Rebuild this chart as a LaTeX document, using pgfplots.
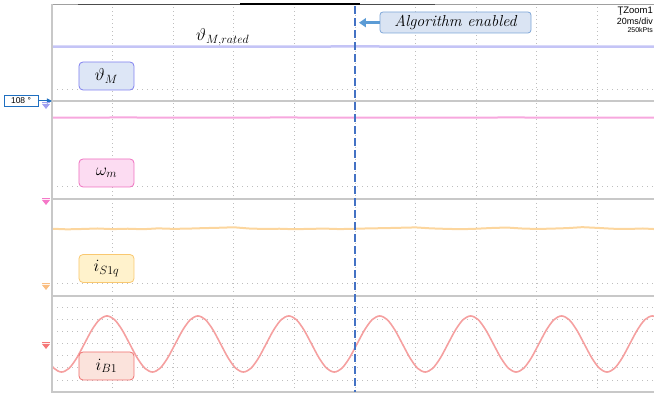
\documentclass[border=0pt]{standalone}
\usepackage{fontspec}
\setsansfont{Liberation Sans}
\usepackage{pgfplots}
\pgfplotsset{compat=1.18}
\usetikzlibrary{arrows.meta}

\definecolor{gridgray}{RGB}{190,190,190}
\definecolor{sepgray}{RGB}{200,200,200}
\definecolor{topgray}{RGB}{160,160,160}
\definecolor{thetaline}{RGB}{196,196,246}
\definecolor{omegaline}{RGB}{247,168,222}
\definecolor{isline}{RGB}{252,214,158}
\definecolor{ibline}{RGB}{245,160,160}
\definecolor{enblue}{RGB}{68,114,196}
\definecolor{arrowblue}{RGB}{91,155,213}
\definecolor{boxblue}{RGB}{221,230,246}
\definecolor{boxblueB}{RGB}{128,128,240}
\definecolor{boxpink}{RGB}{252,220,242}
\definecolor{boxpinkB}{RGB}{240,112,192}
\definecolor{boxyel}{RGB}{255,242,204}
\definecolor{boxyelB}{RGB}{249,200,112}
\definecolor{boxred}{RGB}{251,227,220}
\definecolor{boxredB}{RGB}{240,112,112}
\definecolor{algfill}{RGB}{218,228,243}
\definecolor{algdraw}{RGB}{126,166,216}
\definecolor{mkblue}{RGB}{31,111,192}
\definecolor{mklav}{RGB}{160,160,240}
\definecolor{mkpink}{RGB}{245,120,200}
\definecolor{mkorange}{RGB}{250,190,130}
\definecolor{mkred}{RGB}{245,120,120}

\begin{document}
\begin{tikzpicture}
\path[use as bounding box] (-52bp,-6bp) rectangle (602bp,392bp);
\begin{axis}[
  at={(0,0)}, anchor=south west,
  scale only axis, width=602bp, height=387bp,
  xmin=0, xmax=198.66, ymin=0, ymax=32,
  axis line style={draw=none},
  xtick={20,40,...,180},
  ytick={1,...,7,9,...,15,17,...,23,25,...,31},
  xticklabels={}, yticklabels={},
  major tick length=0pt,
  grid=major,
  x grid style={gridgray, line width=0.8bp, dash pattern=on 1bp off 3bp},
  y grid style={gridgray, line width=0.8bp, dash pattern=on 1bp off 4bp},
  clip=true,
]
% theta_M
\addplot[thetaline, line width=2.5bp] coordinates {(0,28.56) (50,28.56) (100,28.57) (150,28.56) (200,28.56)};
% omega_m
\addplot[omegaline, line width=2bp] coordinates {(0,22.69) (25,22.70) (50,22.68) (75,22.70) (100,22.69) (125,22.68) (150,22.70) (175,22.69) (200,22.69)};
% i_S1q
\addplot[isline, line width=2bp] coordinates {
(0,13.50) (5,13.45) (10,13.48) (15,13.52) (20,13.47) (25,13.50) (30,13.46) (35,13.53) (40,13.49) (45,13.51)
(50,13.55) (55,13.58) (60,13.62) (65,13.52) (70,13.48) (75,13.50) (80,13.46) (85,13.49) (90,13.51) (95,13.47)
(100,13.50) (105,13.53) (110,13.55) (115,13.58) (120,13.61) (125,13.53) (130,13.49) (135,13.46) (140,13.50) (145,13.56)
(150,13.60) (155,13.52) (160,13.48) (165,13.51) (170,13.55) (175,13.63) (180,13.57) (185,13.50) (190,13.48) (195,13.52) (200,13.46)};
% i_B1
\addplot[ibline, line width=1.6bp, smooth] coordinates {
(-1.85,2.81) (0.65,1.96) (3.15,1.65) (5.65,1.96) (8.15,2.81)
(10.65,3.97) (13.15,5.13) (15.65,5.98) (18.15,6.29) (20.65,5.98) (23.15,5.13) (25.65,3.97) (28.15,2.81) (30.65,1.96) (33.15,1.65) (35.65,1.96) (38.15,2.81)
(40.65,3.97) (43.15,5.13) (45.65,5.98) (48.15,6.29) (50.65,5.98) (53.15,5.13) (55.65,3.97) (58.15,2.81) (60.65,1.96) (63.15,1.65) (65.65,1.96) (68.15,2.81)
(70.65,3.97) (73.15,5.13) (75.65,5.98) (78.15,6.29) (80.65,5.98) (83.15,5.13) (85.65,3.97) (88.15,2.81) (90.65,1.96) (93.15,1.65) (95.65,1.96) (98.15,2.81)
(100.65,3.97) (103.15,5.13) (105.65,5.98) (108.15,6.29) (110.65,5.98) (113.15,5.13) (115.65,3.97) (118.15,2.81) (120.65,1.96) (123.15,1.65) (125.65,1.96) (128.15,2.81)
(130.65,3.97) (133.15,5.13) (135.65,5.98) (138.15,6.29) (140.65,5.98) (143.15,5.13) (145.65,3.97) (148.15,2.81) (150.65,1.96) (153.15,1.65) (155.65,1.96) (158.15,2.81)
(160.65,3.97) (163.15,5.13) (165.65,5.98) (168.15,6.29) (170.65,5.98) (173.15,5.13) (175.65,3.97) (178.15,2.81) (180.65,1.96) (183.15,1.65) (185.65,1.96) (188.15,2.81)
(190.65,3.97) (193.15,5.13) (195.65,5.98) (198.15,6.29) (200.65,5.98) (203.15,5.13)};
\end{axis}

\begin{scope}[shift={(-52bp,392bp)}, x=1bp, y=-1bp]
% frame
\draw[topgray, line width=1bp] (52,5)--(654,5);
\draw[black!70, line width=1bp] (78,4.5)--(435,4.5);
\draw[black, line width=2.5bp] (240,4)--(360,4);
\draw[sepgray, line width=2bp] (52,4.5)--(52,393);
\foreach \yy in {101,199,296,392} \draw[sepgray, line width=2bp] (52,\yy)--(654,\yy);
% enabled line
\draw[enblue, line width=1.8bp, dash pattern=on 8bp off 4bp] (355,6)--(355,392);
% labels
\tikzset{lab/.style={rounded corners=4bp, minimum width=55bp, minimum height=28bp, inner sep=0pt, line width=0.8bp, font=\fontsize{17}{19}\selectfont}}
\node[lab, fill=boxblue, draw=boxblueB] at (106.5,76) {$\vartheta_M$};
\node[lab, fill=boxpink, draw=boxpinkB] at (106.5,173) {$\omega_m$};
\node[lab, fill=boxyel, draw=boxyelB] at (106.5,268.5) {$i_{S1q}$};
\node[lab, fill=boxred, draw=boxredB] at (106.5,366) {$i_{B1}$};
\node[anchor=west, inner sep=0pt, font=\fontsize{17}{19}\selectfont] at (196,37) {$\vartheta_{M,rated}$};
\node[rounded corners=3bp, fill=algfill, draw=algdraw, line width=0.8bp, minimum width=151bp, minimum height=21bp, inner sep=0pt, font=\fontsize{16}{18}\selectfont\itshape] at (455.5,22.5) {Algorithm enabled};
\draw[arrowblue, line width=2.5bp, -{Triangle[length=7bp,width=9bp]}] (380,22.7)--(359,22.7);
% scope info
\node[anchor=east, inner sep=0pt, font=\sffamily\fontsize{9.5}{10}\selectfont] at (653,11) {ŢZoom1};
\node[anchor=east, inner sep=0pt, font=\sffamily\fontsize{9}{10}\selectfont] at (653,21.5) {20ms/div};
\node[anchor=east, inner sep=0pt, font=\sffamily\fontsize{7}{8}\selectfont] at (653,30.5) {250kPts};
% 108 marker
\node[draw=mkblue, fill=white, line width=0.8bp, minimum width=34bp, minimum height=11bp, inner sep=0pt, font=\sffamily\fontsize{8.5}{9}\selectfont] at (21,101) {108 °};
\draw[mkblue, line width=1bp, -{Triangle[length=5bp,width=5bp]}] (38,101)--(52,101);
% channel markers
\foreach \yy/\cc in {106/mklav,202/mkpink,287/mkorange,346/mkred}{
  \draw[\cc, line width=1bp] (42,\yy-3)--(50,\yy-3);
  \fill[\cc] (42,\yy-2)--(50,\yy-2)--(46,\yy+3)--cycle;
}
\end{scope}
\end{tikzpicture}
\end{document}
